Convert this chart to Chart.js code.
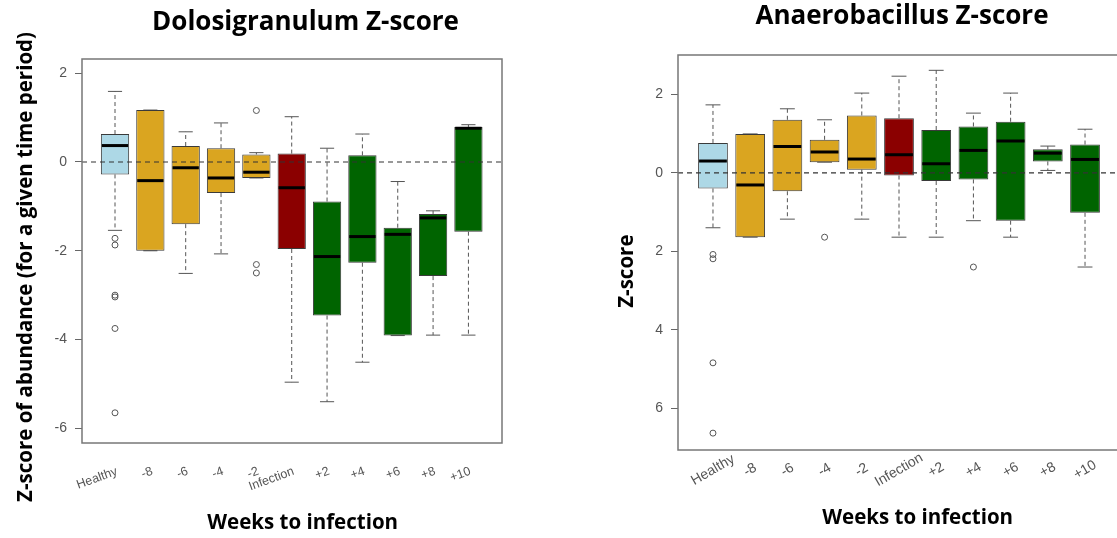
<!DOCTYPE html>
<html>
<head>
<meta charset="utf-8">
<script src="https://cdn.jsdelivr.net/npm/chart.js@4.4.1/dist/chart.umd.min.js"></script>
<style>
html, body { margin: 0; padding: 0; background: #fff; width: 1117px; height: 538px; overflow: hidden; position: relative; }
#leftChart { position: absolute; left: 0; top: 0; }
#rightChart { position: absolute; left: 600px; top: 0; }
</style>
</head>
<body>
<canvas id="leftChart" width="611" height="538"></canvas>
<canvas id="rightChart" width="604" height="538"></canvas>
<script>
// categories shared by both panels
const categories = ['Healthy', '-8', '-6', '-4', '-2', 'Infection', '+2', '+4', '+6', '+8', '+10'];
const boxColors = ['#ADD8E6', '#DAA520', '#DAA520', '#DAA520', '#DAA520', '#8B0000',
                   '#006400', '#006400', '#006400', '#006400', '#006400'];

// Dolosigranulum (left panel) - five number summaries
const doloLow  = [-1.54, -2.00, -2.51, -2.07, -0.36, -4.96, -5.40, -4.51, -3.91, -3.90, -3.90];
const doloQ1   = [-0.28, -2.00, -1.40, -0.70, -0.36, -1.96, -3.46, -2.27, -3.91, -2.57, -1.57];
const doloMed  = [ 0.37, -0.42, -0.13, -0.36, -0.23, -0.58, -2.13, -1.68, -1.63, -1.26,  0.76];
const doloQ3   = [ 0.63,  1.17,  0.36,  0.31,  0.17,  0.19, -0.89,  0.15, -1.48, -1.17,  0.79];
const doloHigh = [ 1.59,  1.17,  0.68,  0.88,  0.21,  1.02,  0.31,  0.63, -0.44, -1.10,  0.84];
// outliers as [category position, value]
const doloOutliers = [[1, -1.72], [1, -1.87], [1, -3.00], [1, -3.04], [1, -3.75], [1, -5.65],
                      [5, 1.16], [5, -2.31], [5, -2.50]];
const doloTicks = [2, 0, -2, -4, -6];

// Anaerobacillus (right panel)
const anaeLow  = [-1.40, -1.64, -1.18, 0.27, -1.18, -1.64, -1.64, -1.22, -1.64, 0.06, -2.40];
const anaeQ1   = [-0.40, -1.64, -0.47, 0.27,  0.08, -0.07, -0.21, -0.17, -1.22, 0.29, -1.02];
const anaeMed  = [ 0.30, -0.31,  0.67, 0.53,  0.35,  0.46,  0.23,  0.57,  0.81, 0.50,  0.34];
const anaeQ3   = [ 0.76,  0.99,  1.35, 0.84,  1.46,  1.39,  1.09,  1.18,  1.30, 0.60,  0.72];
const anaeHigh = [ 1.73,  0.99,  1.63, 1.35,  2.03,  2.46,  2.61,  1.52,  2.03, 0.68,  1.11];
const anaeOutliers = [[1, -2.08], [1, -2.19], [1, -4.84], [1, -6.63], [4, -1.64], [8, -2.40]];
// the original prints these without minus signs
const anaeTicks = [2, 0, -2, -4, -6];
const anaeTickLabels = ['2', '0', '2', '4', '6'];

const titleFont = { family: "'Open Sans', sans-serif", size: 26, weight: 'bold' };
const axisTitleFont = { family: "'Open Sans', sans-serif", size: 20.5, weight: 'bold' };
const tickFont = { family: "'Liberation Sans', Arial, sans-serif", size: 14 };

function line(ctx, x1, y1, x2, y2) {
    ctx.beginPath();
    ctx.moveTo(x1, y1);
    ctx.lineTo(x2, y2);
    ctx.stroke();
}

// whiskers, staples, medians, zero line and frame for the box plots
const boxExtras = {
    id: 'boxExtras',
    beforeDatasetsDraw(chart, args, opts) {
        const ctx = chart.ctx;
        const y = chart.scales.y;
        const bars = chart.getDatasetMeta(0).data;
        ctx.save();
        ctx.strokeStyle = '#555';
        ctx.lineWidth = 1;
        bars.forEach((bar, i) => {
            const half = bar.width / 4;
            const yLow = y.getPixelForValue(opts.low[i]);
            const yHigh = y.getPixelForValue(opts.high[i]);
            const yQ1 = y.getPixelForValue(opts.q1[i]);
            const yQ3 = y.getPixelForValue(opts.q3[i]);
            ctx.setLineDash([4, 3]);
            line(ctx, bar.x, yQ3, bar.x, yHigh);
            line(ctx, bar.x, yQ1, bar.x, yLow);
            ctx.setLineDash([]);
            line(ctx, bar.x - half, yHigh, bar.x + half, yHigh);
            line(ctx, bar.x - half, yLow, bar.x + half, yLow);
        });
        ctx.restore();
    },
    afterDatasetsDraw(chart, args, opts) {
        const ctx = chart.ctx;
        const y = chart.scales.y;
        const bars = chart.getDatasetMeta(0).data;
        ctx.save();
        ctx.strokeStyle = '#000';
        ctx.lineWidth = 3;
        bars.forEach((bar, i) => {
            const ym = y.getPixelForValue(opts.med[i]);
            line(ctx, bar.x - bar.width / 2 + 1, ym, bar.x + bar.width / 2 - 1, ym);
        });
        ctx.restore();
    },
    afterDraw(chart) {
        const ctx = chart.ctx;
        const area = chart.chartArea;
        const y0 = chart.scales.y.getPixelForValue(0);
        ctx.save();
        ctx.strokeStyle = '#333';
        ctx.lineWidth = 1.2;
        ctx.setLineDash([5, 4]);
        line(ctx, area.left, y0, area.right, y0);
        ctx.setLineDash([]);
        ctx.strokeStyle = '#777';
        ctx.lineWidth = 1.5;
        ctx.strokeRect(area.left, area.top, area.right - area.left, area.bottom - area.top);
        ctx.restore();
    }
};

// slanted category labels under the x axis (R style text with srt)
const slantLabels = {
    id: 'slantLabels',
    afterDraw(chart, args, opts) {
        const ctx = chart.ctx;
        const x = chart.scales.x;
        ctx.save();
        ctx.font = opts.size + "px 'Liberation Sans', Arial, sans-serif";
        ctx.fillStyle = '#555';
        ctx.textAlign = opts.align;
        ctx.textBaseline = 'middle';
        categories.forEach((c, i) => {
            ctx.save();
            ctx.translate(x.getPixelForValue(i + 1) + opts.dx, chart.chartArea.bottom + opts.dy);
            ctx.rotate(-opts.angle * Math.PI / 180);
            ctx.fillText(c, 0, 0);
            ctx.restore();
        });
        ctx.restore();
    }
};

function makeBoxChart(id, p) {
    const ctx = document.getElementById(id).getContext('2d');
    return new Chart(ctx, {
        type: 'bar',
        data: {
            datasets: [{
                data: categories.map((c, i) => ({ x: i + 1, y: [p.q1[i], p.q3[i]] })),
                backgroundColor: boxColors,
                borderColor: '#3a3a3a',
                borderWidth: 1,
                borderSkipped: false,
                categoryPercentage: 1,
                barPercentage: 0.8
            }, {
                type: 'scatter',
                data: p.outliers.map(o => ({ x: o[0], y: o[1] })),
                pointRadius: 3,
                pointBorderWidth: 1,
                pointBorderColor: '#555',
                pointBackgroundColor: 'rgba(255,255,255,0)'
            }]
        },
        options: {
            responsive: false,
            animation: false,
            devicePixelRatio: 1,
            layout: { padding: 0 },
            plugins: {
                legend: { display: false },
                tooltip: { enabled: false },
                title: {
                    display: true,
                    text: p.title,
                    color: '#000',
                    font: titleFont,
                    padding: { top: p.titleTop, bottom: p.titleBottom }
                },
                boxExtras: { low: p.low, q1: p.q1, med: p.med, q3: p.q3, high: p.high },
                slantLabels: p.labels
            },
            scales: {
                x: {
                    type: 'linear',
                    offset: false,
                    min: p.xMin,
                    max: p.xMax,
                    afterBuildTicks: s => { s.ticks = categories.map((c, i) => ({ value: i + 1 })); },
                    afterFit: s => { s.height = p.xAxisHeight; },
                    grid: { display: false, offset: false },
                    border: { display: false },
                    ticks: { display: false },
                    title: {
                        display: true,
                        text: p.xTitle,
                        color: '#000',
                        font: axisTitleFont,
                        padding: { top: 0, bottom: p.xTitlePad }
                    }
                },
                y: {
                    min: p.yMin,
                    max: p.yMax,
                    afterBuildTicks: s => { s.ticks = p.ticks.map(v => ({ value: v })); },
                    afterFit: s => { s.width = p.yAxisWidth; },
                    grid: { drawOnChartArea: false, drawTicks: true, tickLength: 7, color: '#666' },
                    border: { display: false },
                    ticks: {
                        padding: 8,
                        color: '#555',
                        font: tickFont,
                        callback: p.tickLabel
                    },
                    title: {
                        display: true,
                        text: p.yTitle,
                        color: '#000',
                        font: axisTitleFont,
                        padding: { top: p.yTitlePad, bottom: 0 }
                    }
                },
                // empty right-hand axis that only reserves space so the title centres on the canvas
                yRight: {
                    position: 'right',
                    grid: { display: false },
                    border: { display: false },
                    ticks: { display: false },
                    afterFit: s => { s.width = p.padRight; }
                }
            }
        },
        plugins: [boxExtras, slantLabels]
    });
}

// spaces nudge the centred axis titles to where the original has them
makeBoxChart('leftChart', {
    title: 'Dolosigranulum Z-score',
    xTitle: '    Weeks to infection',
    yTitle: 'Z-score of abundance (for a given time period)      ',
    low: doloLow, q1: doloQ1, med: doloMed, q3: doloQ3, high: doloHigh,
    outliers: doloOutliers,
    ticks: doloTicks,
    tickLabel: v => String(v),
    labels: { size: 12.5, angle: 20, align: 'right', dx: 2, dy: 28 },
    xMin: 0.066, xMax: 11.95,
    yMin: -6.33, yMax: 2.32,
    padRight: 109,
    titleTop: 7.4, titleBottom: 20.4,
    xAxisHeight: 95,
    yAxisWidth: 82,
    xTitlePad: 3,
    yTitlePad: 14
});

makeBoxChart('rightChart', {
    title: 'Anaerobacillus Z-score',
    xTitle: '       Weeks to infection',
    yTitle: 'Z-score       ',
    low: anaeLow, q1: anaeQ1, med: anaeMed, q3: anaeQ3, high: anaeHigh,
    outliers: anaeOutliers,
    ticks: anaeTicks,
    tickLabel: v => anaeTickLabels[anaeTicks.indexOf(v)],
    labels: { size: 14, angle: 30, align: 'center', dx: 0, dy: 20 },
    xMin: 0.06, xMax: 11.94,
    yMin: -7.06, yMax: 3.0,
    padRight: 84,
    titleTop: 1.4, titleBottom: 22.4,
    xAxisHeight: 88,
    yAxisWidth: 78,
    xTitlePad: 8,
    yTitlePad: 15
});
</script>
</body>
</html>
